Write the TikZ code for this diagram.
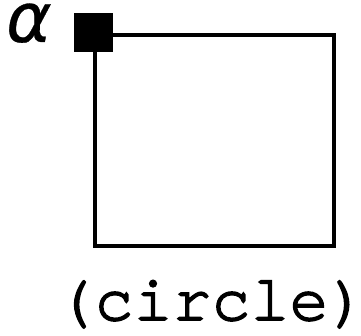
\documentclass[tikz,border=0pt]{standalone}
\usepackage{fontspec}
\setmainfont{Liberation Sans}
\newfontfamily\monof[Extension=.otf,UprightFont=*-regular,FakeBold=2.5]{texgyrecursor}
\newfontfamily\greekf[FakeBold=0.4]{DejaVu Sans}
\begin{document}
\begin{tikzpicture}[x=1pt,y=1pt,
  boxstyle/.style={draw=black,line width=4pt,minimum width=239pt,minimum height=211pt,inner sep=0pt},
  portstyle/.style={fill=black,minimum size=39pt,inner sep=0pt}]
\useasboundingbox (0,0) rectangle (361,335);
\node[boxstyle,anchor=north west] (box) at (93,302) {};
\node[portstyle] (port) at (box.north west) {};
\node[anchor=base west,inner sep=0pt,text height=36pt,text depth=0pt,font=\greekf\itshape\fontsize{69}{69}\selectfont] (alpha) at (6,293) {α};
\node[anchor=base,inner sep=0pt,font=\monof\fontsize{65}{65}\selectfont] (lbl) at (211.5,15) {(circle)};
\end{tikzpicture}
\end{document}
